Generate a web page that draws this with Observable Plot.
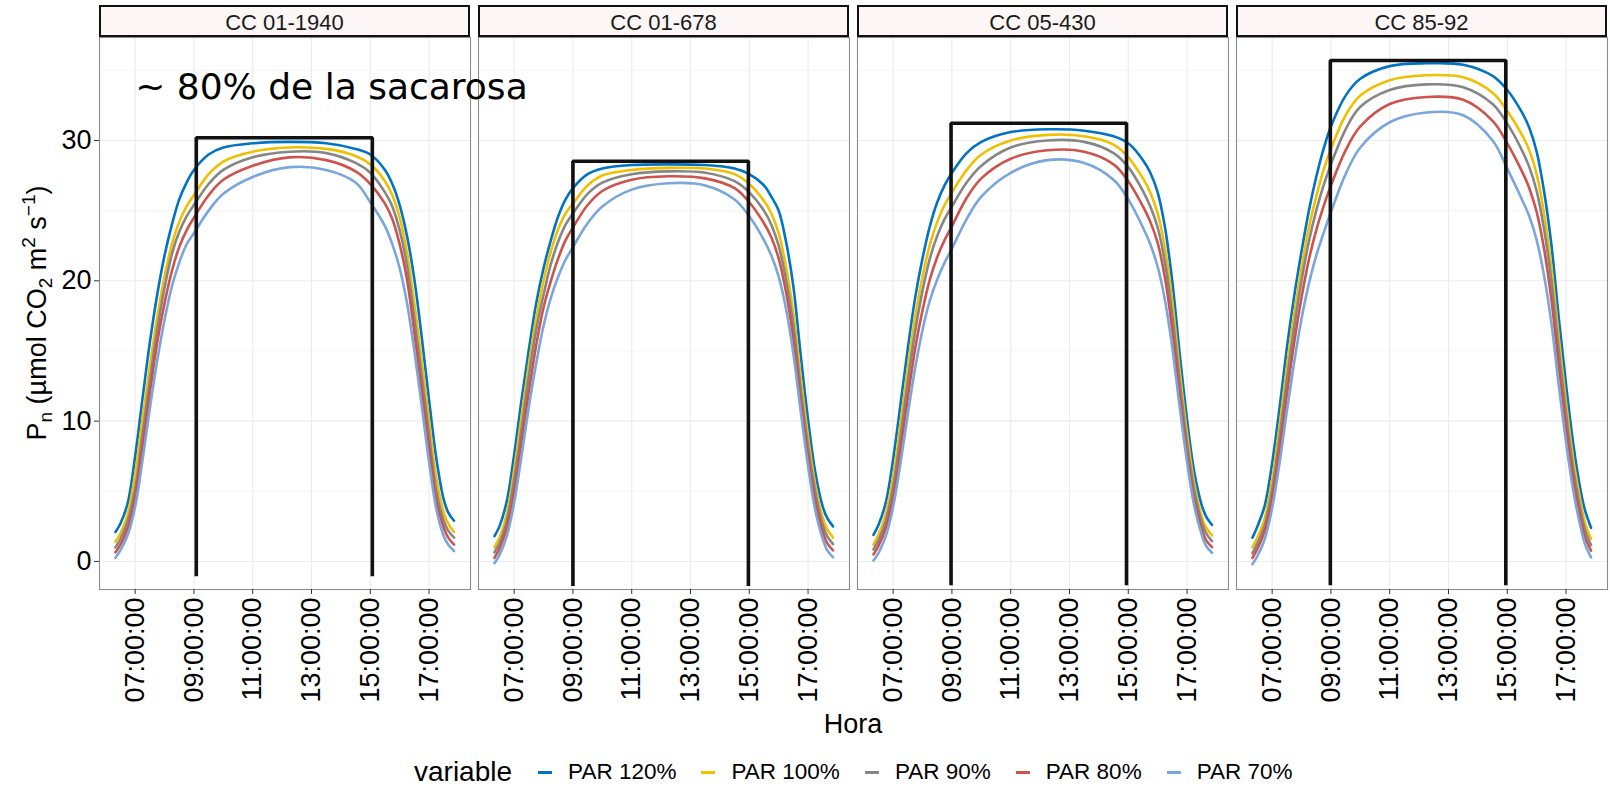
<!DOCTYPE html>
<html>
<head>
<meta charset="utf-8">
<script src="https://cdn.jsdelivr.net/npm/d3@7"></script>
<script src="https://cdn.jsdelivr.net/npm/@observablehq/plot@0.6"></script>
<style>
  body { margin: 0; background: #ffffff; font-family: "Liberation Sans", Arial, sans-serif; }
  #chart { width: 1610px; height: 790px; position: relative; background: #ffffff; }
  #legend { height: 45px; box-sizing: border-box; padding-top: 9px; padding-left: 414px; display: flex; align-items: center; justify-content: flex-start; color: #000; }
  #legend .title { font-size: 28px; margin-right: 26px; }
  #legend .key { width: 14px; height: 3px; margin-right: 16px; }
  #legend .lab { font-size: 22.5px; margin-right: 25px; }
</style>
</head>
<body>
<div id="chart"></div>
<script>
// ---- data ----
const panels = ["CC 01-1940", "CC 01-678", "CC 05-430", "CC 85-92"];
const series = ["PAR 120%", "PAR 100%", "PAR 90%", "PAR 80%", "PAR 70%"];
const colors = ["#0073C2", "#EFC000", "#868686", "#CD534C", "#7AA6DC"];
const hours = [6.33, 6.5, 6.75, 7.0, 7.25, 7.5, 7.75, 8.0, 8.25, 8.5, 8.75, 9.0, 9.5, 10.0, 11.0, 12.25, 13.5, 14.5, 15.0, 15.5, 15.75, 16.0, 16.25, 16.5, 16.75, 17.0, 17.25, 17.5, 17.65, 17.85];

// one row per series (PAR 120%, 100%, 90%, 80%, 70%)
const valuesCC01_1940 = [
  [2.1, 2.7, 4.2, 7.5, 11.6, 15.6, 19.0, 21.8, 24.0, 25.8, 27.0, 27.9, 29.0, 29.5, 29.8, 29.9, 29.8, 29.4, 29.0, 27.9, 26.9, 25.4, 23.2, 20.1, 16.0, 11.5, 7.3, 4.4, 3.5, 2.9],
  [1.4, 2.0, 3.4, 6.2, 10.1, 13.9, 17.4, 20.3, 22.6, 24.2, 25.3, 26.1, 27.6, 28.5, 29.2, 29.5, 29.4, 28.9, 28.3, 27.1, 26.1, 24.5, 22.0, 18.4, 14.3, 10.0, 5.9, 3.5, 2.7, 2.1],
  [1.0, 1.6, 2.9, 5.2, 9.0, 12.9, 16.5, 19.5, 21.9, 23.5, 24.6, 25.4, 26.9, 27.9, 28.8, 29.2, 29.1, 28.4, 27.7, 26.3, 25.3, 23.6, 21.1, 17.3, 13.2, 9.0, 5.0, 2.9, 2.2, 1.7],
  [0.65, 1.2, 2.4, 4.6, 8.2, 12.0, 15.6, 18.4, 20.7, 22.4, 23.6, 24.5, 26.1, 27.2, 28.2, 28.8, 28.6, 27.8, 26.9, 25.5, 24.4, 22.6, 20.1, 16.3, 12.2, 8.2, 4.3, 2.4, 1.7, 1.2],
  [0.26, 0.8, 1.9, 3.9, 7.2, 10.9, 14.3, 17.2, 19.6, 21.3, 22.6, 23.4, 25.0, 26.2, 27.4, 28.1, 27.9, 27.0, 25.6, 23.9, 22.6, 20.9, 18.4, 15.0, 11.1, 7.1, 3.7, 1.8, 1.2, 0.74]
];
const valuesCC01_678 = [
  [1.8, 2.5, 4.3, 7.6, 11.5, 15.1, 18.4, 20.9, 22.9, 24.6, 25.8, 26.6, 27.6, 28.0, 28.25, 28.3, 28.25, 28.0, 27.6, 26.8, 26.0, 25.0, 22.8, 19.6, 14.7, 10.1, 6.3, 3.9, 3.1, 2.5],
  [1.0, 1.7, 3.4, 6.5, 10.3, 14.0, 17.3, 20.0, 22.1, 23.7, 24.8, 25.5, 26.8, 27.5, 27.9, 28.05, 28.0, 27.6, 26.9, 25.7, 24.8, 23.4, 21.0, 17.7, 13.1, 8.9, 5.4, 3.1, 2.3, 1.7],
  [0.65, 1.3, 2.9, 5.8, 9.4, 13.2, 16.5, 19.0, 21.2, 22.8, 24.0, 24.8, 26.2, 27.0, 27.6, 27.8, 27.7, 27.1, 26.3, 25.0, 24.0, 22.5, 20.1, 16.8, 12.3, 8.2, 4.9, 2.6, 1.8, 1.24],
  [0.26, 0.9, 2.4, 5.0, 8.6, 12.1, 15.4, 18.1, 20.0, 21.6, 22.9, 23.8, 25.4, 26.4, 27.2, 27.45, 27.3, 26.6, 25.6, 24.1, 23.1, 21.6, 19.2, 15.9, 11.5, 7.5, 4.3, 2.1, 1.3, 0.79],
  [-0.12, 0.45, 1.8, 4.2, 7.5, 11.0, 14.1, 16.8, 18.8, 20.3, 21.5, 22.4, 24.1, 25.3, 26.5, 26.95, 26.8, 25.8, 24.6, 22.9, 21.8, 20.3, 18.0, 14.8, 10.7, 6.8, 3.6, 1.6, 0.8, 0.29]
];
const valuesCC05_430 = [
  [1.9, 2.6, 4.2, 7.3, 11.2, 15.2, 18.8, 21.6, 23.9, 25.6, 26.8, 27.7, 29.1, 29.9, 30.6, 30.8, 30.7, 30.3, 29.8, 28.6, 27.7, 26.3, 23.8, 19.9, 14.8, 10.1, 6.3, 4.0, 3.2, 2.6],
  [1.2, 1.9, 3.4, 6.0, 9.8, 13.8, 17.4, 20.3, 22.6, 24.2, 25.4, 26.3, 27.9, 29.0, 30.0, 30.4, 30.3, 29.7, 28.8, 27.3, 26.3, 24.8, 22.3, 18.5, 13.6, 9.1, 5.5, 3.2, 2.4, 1.85],
  [0.85, 1.5, 2.9, 5.3, 8.9, 12.8, 16.4, 19.3, 21.6, 23.2, 24.4, 25.3, 27.0, 28.2, 29.5, 30.0, 29.9, 29.1, 28.1, 26.4, 25.3, 23.8, 21.3, 17.5, 12.8, 8.4, 5.0, 2.8, 2.0, 1.45],
  [0.5, 1.1, 2.4, 4.6, 8.0, 11.7, 15.2, 17.9, 20.1, 21.7, 22.9, 23.9, 25.9, 27.3, 28.7, 29.3, 29.2, 28.3, 27.1, 25.3, 24.2, 22.7, 20.2, 16.5, 11.9, 7.7, 4.4, 2.3, 1.5, 1.02],
  [0.07, 0.6, 1.8, 3.9, 7.0, 10.5, 13.8, 16.5, 18.6, 20.1, 21.3, 22.3, 24.4, 26.0, 27.7, 28.6, 28.4, 27.2, 25.8, 23.8, 22.6, 21.0, 18.6, 15.2, 11.0, 7.1, 3.9, 1.9, 1.1, 0.62]
];
const valuesCC85_92 = [
  [1.7, 2.5, 4.0, 7.0, 10.9, 15.2, 18.9, 22.1, 25.0, 27.4, 29.4, 31.0, 33.2, 34.4, 35.3, 35.5, 35.4, 34.6, 33.6, 32.0, 30.9, 29.2, 26.4, 22.6, 17.4, 12.6, 8.3, 5.0, 3.6, 2.4],
  [1.0, 1.7, 3.1, 5.8, 9.6, 13.8, 17.6, 20.9, 23.8, 26.0, 27.9, 29.4, 31.8, 33.2, 34.3, 34.65, 34.5, 33.4, 32.1, 30.4, 29.3, 27.6, 24.8, 21.0, 16.0, 11.3, 7.2, 4.2, 2.7, 1.6],
  [0.6, 1.3, 2.6, 5.1, 8.8, 12.9, 16.7, 20.0, 22.8, 25.0, 26.8, 28.3, 30.8, 32.4, 33.6, 34.0, 33.8, 32.6, 31.2, 29.3, 28.1, 26.4, 23.7, 20.0, 15.1, 10.5, 6.5, 3.6, 2.2, 1.16],
  [0.25, 0.9, 2.2, 4.5, 8.0, 11.9, 15.6, 18.8, 21.5, 23.6, 25.3, 26.8, 29.3, 31.0, 32.6, 33.1, 32.9, 31.4, 29.8, 27.8, 26.6, 24.9, 22.3, 18.7, 14.0, 9.6, 5.8, 3.0, 1.7, 0.77],
  [-0.2, 0.4, 1.6, 3.8, 7.0, 10.7, 14.2, 17.3, 19.8, 21.8, 23.4, 24.9, 27.6, 29.5, 31.3, 32.0, 31.8, 30.0, 28.0, 25.8, 24.6, 22.9, 20.4, 17.0, 12.6, 8.5, 5.0, 2.4, 1.2, 0.29]
];

// open black boxes (left side, top, right side)
const boxStart = [9.08, 9.0, 8.97, 8.98];
const boxEnd = [15.07, 14.97, 14.94, 14.95];
const boxTop = [30.2, 28.52, 31.23, 35.7];
const boxBottom = [-1.05, -1.75, -1.7, -1.7];

const xTicks = [7, 9, 11, 13, 15, 17];
const yTicks = [0, 10, 20, 30];
const yMinor = [5, 15, 25, 35];
const noteText = "~ 80% de la sacarosa";
const notePanel = "CC 01-1940";
const noteHour = 7.0;
const noteValue = 33.8;

// ---- build tables ----
const panelValues = [valuesCC01_1940, valuesCC01_678, valuesCC05_430, valuesCC85_92];
const rows = [];
panels.forEach((p, i) => series.forEach((s, j) => hours.forEach((h, k) => {
  rows.push({panel: p, series: s, hour: h, value: panelValues[i][j][k]});
})));
const boxRows = [];
panels.forEach((p, i) => {
  boxRows.push({panel: p, hour: boxStart[i], value: boxBottom[i]});
  boxRows.push({panel: p, hour: boxStart[i], value: boxTop[i]});
  boxRows.push({panel: p, hour: boxEnd[i], value: boxTop[i]});
  boxRows.push({panel: p, hour: boxEnd[i], value: boxBottom[i]});
});
const noteRows = [{panel: notePanel, hour: noteHour, value: noteValue, text: noteText}];

const fmt = h => String(h).padStart(2, "0") + ":00:00";

const W = 1610, H = 745;
const plot = Plot.plot({
  width: W, height: H,
  marginLeft: 99, marginRight: 3, marginTop: 37, marginBottom: 156,
  fx: {domain: panels, paddingInner: 0.0211, paddingOuter: 0, round: false, axis: null},
  x: {domain: [5.787, 18.41], axis: null},
  y: {domain: [-2.0, 37.34], axis: null},
  color: {domain: series, range: colors},
  style: {fontFamily: "'Liberation Sans', Arial, sans-serif", background: "#ffffff", color: "#000", overflow: "visible"},
  marks: [
    Plot.gridY(yMinor, {stroke: "#f2f2f2", strokeOpacity: 1, strokeWidth: 0.8}),
    Plot.gridY(yTicks, {stroke: "#ebebeb", strokeOpacity: 1, strokeWidth: 1.1}),
    Plot.gridX(xTicks, {stroke: "#ebebeb", strokeOpacity: 1, strokeWidth: 1.1}),
    Plot.line(rows, {fx: "panel", x: "hour", y: "value", z: "series", stroke: "series", strokeWidth: 2.6, curve: "catmull-rom"}),
    Plot.line(boxRows, {fx: "panel", x: "hour", y: "value", z: "panel", stroke: "#111111", strokeWidth: 3.6, strokeLinejoin: "miter", strokeLinecap: "butt"}),
    Plot.frame({stroke: "#8c8c8c", strokeWidth: 1.1}),
    Plot.text(noteRows, {fx: "panel", x: "hour", y: "value", text: "text", textAnchor: "start", fontSize: 36, fontFamily: "'DejaVu Sans', sans-serif", fill: "#000"}),
    Plot.axisX(xTicks, {tickRotate: -90, fontSize: 27, tickSize: 5, tickPadding: 3, tickFormat: fmt, label: null, stroke: "#333"}),
    Plot.axisY(yTicks, {fontSize: 27, tickSize: 5, tickPadding: 3, label: null, stroke: "#333"})
  ]
});

document.getElementById("chart").appendChild(plot);

// ---- strips, axis titles ----
const svg = d3.select(plot);
const fxs = plot.scale("fx");
panels.forEach(p => {
  const x0 = fxs.apply(p);
  const bw = fxs.bandwidth;
  svg.append("rect")
    .attr("x", x0 + 1).attr("y", 6).attr("width", bw - 2).attr("height", 30)
    .attr("fill", "#fcf6f6").attr("stroke", "#111").attr("stroke-width", 2);
  svg.append("text")
    .attr("x", x0 + bw / 2).attr("y", 29.5)
    .attr("text-anchor", "middle").attr("font-size", 22).attr("fill", "#1a1a1a")
    .text(p);
});
const left = fxs.apply(panels[0]);
const right = fxs.apply(panels[panels.length - 1]) + fxs.bandwidth;
svg.append("text")
  .attr("x", (left + right) / 2).attr("y", 733)
  .attr("text-anchor", "middle").attr("font-size", 27).attr("fill", "#000")
  .text("Hora");

const yt = svg.append("text")
  .attr("transform", "translate(46,313) rotate(-90)")
  .attr("text-anchor", "middle").attr("font-size", 27).attr("fill", "#000");
yt.append("tspan").text("P");
yt.append("tspan").attr("font-size", 19).attr("baseline-shift", -6).text("n");
yt.append("tspan").text(" (µmol CO");
yt.append("tspan").attr("font-size", 19).attr("baseline-shift", -6).text("2");
yt.append("tspan").text(" m");
yt.append("tspan").attr("font-size", 19).attr("baseline-shift", 11).text("2");
yt.append("tspan").text(" s");
yt.append("tspan").attr("font-size", 19).attr("baseline-shift", 11).text("−1");
yt.append("tspan").text(")");

// ---- legend ----
const legend = d3.select("#chart").append("div").attr("id", "legend");
legend.append("span").attr("class", "title").text("variable");
series.forEach((s, i) => {
  legend.append("span").attr("class", "key").style("background", colors[i]);
  legend.append("span").attr("class", "lab").text(s);
});
</script>
</body>
</html>
